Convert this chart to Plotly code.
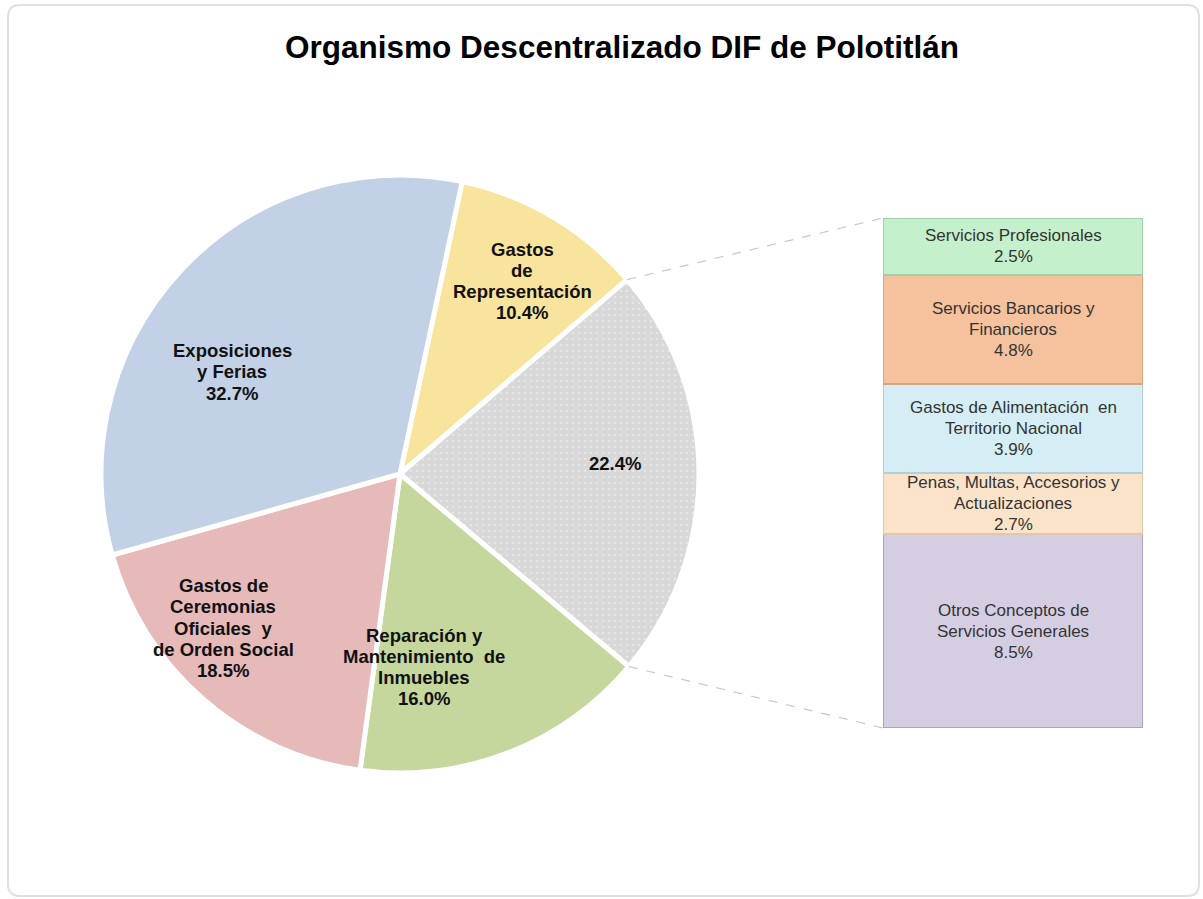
import math
import plotly.graph_objects as go

# ---------------- data ----------------
pie_labels = ["Gastos de Representación", "Otros", "Reparación y Mantenimiento de Inmuebles",
              "Gastos de Ceremonias Oficiales y de Orden Social", "Exposiciones y Ferias"]
pie_values = [10.4, 22.4, 16.0, 18.5, 32.7]
pie_text_lines = [["Gastos", "de", "Representación"],
                  [],
                  ["Reparación y", "Mantenimiento  de", "Inmuebles"],
                  ["Gastos de", "Ceremonias", "Oficiales  y", "de Orden Social"],
                  ["Exposiciones", "y Ferias"]]

bar_labels = [["Otros Conceptos de", "Servicios Generales"],
              ["Penas, Multas, Accesorios y", "Actualizaciones"],
              ["Gastos de Alimentación  en", "Territorio Nacional"],
              ["Servicios Bancarios y", "Financieros"],
              ["Servicios Profesionales"]]
bar_values = [8.5, 2.7, 3.9, 4.8, 2.5]

title_text = "Organismo Descentralizado DIF de Polotitlán"

# ---------------- styles ----------------
W, H = 1203, 899
FONT = "Arial, Liberation Sans, sans-serif"
pie_colors = ["#f8e49c", "#d8d8d8", "#c5d79d", "#e7baba", "#c2d1e6"]
bar_colors = ["#d5cee3", "#fbe3c9", "#d5edf4", "#f5c29d", "#c5f0cc"]
bar_edge = ["#aaa3c0", "#e0c8a8", "#b0cfd8", "#d9a47e", "#9fd0a8"]

# pie geometry (pixels)
cx, cy, R = 400, 474, 299
pie_dom_x = [(cx - R) / W, (cx + R) / W]
pie_dom_y = [1 - (cy + R) / H, 1 - (cy - R) / H]
rotation = 12

# bar geometry (pixels)
bx0, bx1, by0, by1 = 883, 1143, 218, 728

def px(x):
    return x / W

def py(y):
    return 1 - y / H

fig = go.Figure()

fig.add_trace(go.Pie(
    labels=pie_labels, values=pie_values, sort=False, direction="clockwise",
    rotation=rotation, domain=dict(x=pie_dom_x, y=pie_dom_y),
    marker=dict(colors=pie_colors, line=dict(color="white", width=5),
                pattern=dict(shape=["", ".", "", "", ""], fgcolor="#e6e6e6",
                             bgcolor=pie_colors, size=6, solidity=0.15)),
    textinfo="none", hoverinfo="label+percent", showlegend=False,
))

annotations = []
for lines, val, col, edge in zip(bar_labels, bar_values, bar_colors, bar_edge):
    fig.add_trace(go.Bar(
        x=[0], y=[val], xaxis="x2", yaxis="y2", width=1,
        marker=dict(color=col, line=dict(color=edge, width=2)),
        showlegend=False, hoverinfo="y", name=" ".join(lines),
    ))

# bar texts at segment centres (data coordinates)
cum = 0.0
bar_line_gap = 21 * sum(bar_values) / (by1 - by0)  # line spacing in data units
for lines, val in zip(bar_labels, bar_values):
    mid = cum + val / 2
    all_lines = lines + [f"{val:.1f}%"]
    n = len(all_lines)
    for i, t in enumerate(all_lines):
        annotations.append(dict(x=0, y=mid - (i - (n - 1) / 2) * bar_line_gap, xref="x2", yref="y2",
                                text=t, showarrow=False, xanchor="center", yanchor="middle",
                                font=dict(family=FONT, size=17, color="#333333")))
    cum += val

# pie labels (text annotations), centred where the reference places them
label_pos = [(522, 281), (615, 463), (424, 667), (223, 628), (232, 372)]
for lines, val, (lx, ly) in zip(pie_text_lines, pie_values, label_pos):
    all_lines = lines + [f"{val:.1f}%"]
    n = len(all_lines)
    for i, t in enumerate(all_lines):
        yy = ly + (i - (n - 1) / 2) * 21.2
        annotations.append(dict(x=px(lx), y=py(yy), xref="paper", yref="paper", text=f"<b>{t}</b>",
                                showarrow=False, xanchor="center", yanchor="middle",
                                font=dict(family=FONT, size=18.5, color="#111111")))

# connector lines derived from the grey slice boundaries
total = sum(pie_values)
a_start = rotation + 360 * pie_values[0] / total
a_end = a_start + 360 * pie_values[1] / total
def pie_pt(a):
    r = math.radians(a)
    return cx + R * math.sin(r), cy - R * math.cos(r)
p1 = pie_pt(a_start)
p2 = pie_pt(a_end)

# rounded frame
fx0, fy0, fx1, fy1, rr = 8, 5, 1199, 896, 12
frame_path = (f"M {px(fx0+rr)},{py(fy0)} L {px(fx1-rr)},{py(fy0)} Q {px(fx1)},{py(fy0)} {px(fx1)},{py(fy0+rr)} "
              f"L {px(fx1)},{py(fy1-rr)} Q {px(fx1)},{py(fy1)} {px(fx1-rr)},{py(fy1)} "
              f"L {px(fx0+rr)},{py(fy1)} Q {px(fx0)},{py(fy1)} {px(fx0)},{py(fy1-rr)} "
              f"L {px(fx0)},{py(fy0+rr)} Q {px(fx0)},{py(fy0)} {px(fx0+rr)},{py(fy0)} Z")

shapes = [
    dict(type="line", xref="paper", yref="paper", x0=px(p1[0]), y0=py(p1[1]),
         x1=px(bx0), y1=py(by0), line=dict(color="#c8c8c8", width=1.2, dash="dash")),
    dict(type="line", xref="paper", yref="paper", x0=px(p2[0]), y0=py(p2[1]),
         x1=px(bx0), y1=py(by1), line=dict(color="#c8c8c8", width=1.2, dash="dash")),
    dict(type="path", xref="paper", yref="paper", path=frame_path,
         line=dict(color="#e0e0e0", width=2), layer="below"),
]

fig.update_layout(
    width=W, height=H, margin=dict(l=0, r=0, t=0, b=0),
    paper_bgcolor="white", plot_bgcolor="white",
    barmode="stack",
    title=dict(text=f"<b>{title_text}</b>", x=px(622), xanchor="center", y=py(47), yanchor="middle",
               font=dict(family=FONT, size=31.5, color="#000000")),
    xaxis2=dict(domain=[px(bx0), px(bx1)], range=[-0.5, 0.5], visible=False, anchor="y2"),
    yaxis2=dict(domain=[py(by1), py(by0)], range=[0, sum(bar_values)], visible=False, anchor="x2"),
    annotations=annotations, shapes=shapes,
)

fig.write_html("out.html", config={"displayModeBar": False},
               post_script="document.body.style.margin='0';")
